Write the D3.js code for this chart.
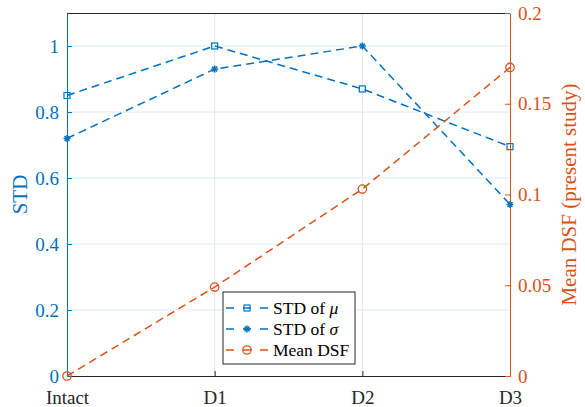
<!DOCTYPE html>
<html>
<head>
<meta charset="utf-8">
<script src="https://cdn.jsdelivr.net/npm/d3@7"></script>
<style>
  body { margin: 0; background: #fff; }
  svg text { font-family: "Liberation Serif", "Times New Roman", serif !important; }
</style>
</head>
<body>
<div class="chart"></div>
<script>
const categories = ["Intact", "D1", "D2", "D3"];
const stdMu = [0.85, 1.0, 0.87, 0.695];
const stdSigma = [0.72, 0.93, 1.0, 0.52];
const meanDSF = [0, 0.049, 0.103, 0.17];
const leftTicks = [0, 0.2, 0.4, 0.6, 0.8, 1];
const rightTicks = [0, 0.05, 0.1, 0.15, 0.2];

const width = 585, height = 407;
const margin = { top: 13, right: 75, bottom: 31, left: 67 };
const blue = "#0072BD", orange = "#D95319";

const svg = d3.select(".chart").append("svg")
  .attr("width", width).attr("height", height);

const x = d3.scalePoint().domain(categories)
  .range([margin.left, width - margin.right]);
const yL = d3.scaleLinear().domain([0, 1.1]).range([height - margin.bottom, margin.top]);
const yR = d3.scaleLinear().domain([0, 0.2]).range([height - margin.bottom, margin.top]);

// grid
svg.append("g").selectAll("line").data(leftTicks.slice(1)).join("line")
  .attr("x1", margin.left).attr("x2", width - margin.right)
  .attr("y1", d => yL(d)).attr("y2", d => yL(d))
  .attr("stroke", "#dcebf6").attr("stroke-width", 1);
svg.append("g").selectAll("line").data(categories.slice(1, -1)).join("line")
  .attr("x1", d => x(d)).attr("x2", d => x(d))
  .attr("y1", margin.top).attr("y2", height - margin.bottom)
  .attr("stroke", "#e6e6e6").attr("stroke-width", 1);

// top border
svg.append("line")
  .attr("x1", margin.left).attr("x2", width - margin.right)
  .attr("y1", margin.top + 0.5).attr("y2", margin.top + 0.5)
  .attr("stroke", "#262626").attr("stroke-width", 1);

// bottom axis
const xAxis = svg.append("g")
  .attr("transform", `translate(0,${height - margin.bottom})`)
  .call(d3.axisBottom(x).tickSizeOuter(0).tickSizeInner(-5).tickPadding(0));
xAxis.select(".domain").attr("stroke", "#262626");
xAxis.selectAll(".tick line").attr("stroke", "#262626");
xAxis.selectAll(".tick text").attr("font-size", 19).attr("fill", "#262626")
  .attr("y", 15).attr("dy", "0.71em");
xAxis.selectAll(".tick").filter(d => d === "Intact" || d === "D3").select("line").remove();

// left axis
const yAxisL = svg.append("g")
  .attr("transform", `translate(${margin.left},0)`)
  .call(d3.axisLeft(yL).tickValues(leftTicks).tickFormat(d3.format("~g"))
    .tickSizeInner(-5).tickSizeOuter(0).tickPadding(8));
yAxisL.select(".domain").attr("stroke", blue);
yAxisL.selectAll(".tick line").attr("stroke", blue);
yAxisL.selectAll(".tick text").attr("font-size", 19).attr("fill", blue);

// right axis
const yAxisR = svg.append("g")
  .attr("transform", `translate(${width - margin.right},0)`)
  .call(d3.axisRight(yR).tickValues(rightTicks).tickFormat(d3.format("~g"))
    .tickSizeInner(-5).tickSizeOuter(0).tickPadding(8));
yAxisR.select(".domain").attr("stroke", orange);
yAxisR.selectAll(".tick line").attr("stroke", orange);
yAxisR.selectAll(".tick text").attr("font-size", 19).attr("fill", orange);

// axis labels
const midY = (margin.top + height - margin.bottom) / 2;
svg.append("text")
  .attr("transform", `translate(27,${midY}) rotate(-90)`)
  .attr("text-anchor", "middle").attr("font-size", 21).attr("fill", blue)
  .text("STD");
svg.append("text")
  .attr("transform", `translate(576,${midY}) rotate(-90)`)
  .attr("text-anchor", "middle").attr("font-size", 21).attr("fill", orange)
  .text("Mean DSF (present study)");

// lines
const dash = "8,5";
const lineL = d3.line().x((d, i) => x(categories[i])).y(d => yL(d));
const lineR = d3.line().x((d, i) => x(categories[i])).y(d => yR(d));

const plot = svg.append("g");
plot.append("path").datum(stdMu).attr("d", lineL)
  .attr("fill", "none").attr("stroke", blue).attr("stroke-width", 1.5).attr("stroke-dasharray", dash);
plot.append("path").datum(stdSigma).attr("d", lineL)
  .attr("fill", "none").attr("stroke", blue).attr("stroke-width", 1.5).attr("stroke-dasharray", dash);
plot.append("path").datum(meanDSF).attr("d", lineR)
  .attr("fill", "none").attr("stroke", orange).attr("stroke-width", 1.5).attr("stroke-dasharray", dash);

function square(g, cx, cy, c) {
  g.append("rect").attr("x", cx - 3).attr("y", cy - 3).attr("width", 6).attr("height", 6)
    .attr("fill", "none").attr("stroke", c).attr("stroke-width", 1.2);
}
function star(g, cx, cy, c) {
  const r = 3.5;
  [0, 45, 90, 135].forEach(a => {
    const rad = a * Math.PI / 180;
    g.append("line")
      .attr("x1", cx - r * Math.cos(rad)).attr("y1", cy - r * Math.sin(rad))
      .attr("x2", cx + r * Math.cos(rad)).attr("y2", cy + r * Math.sin(rad))
      .attr("stroke", c).attr("stroke-width", 1.5);
  });
}
function circ(g, cx, cy, c) {
  g.append("circle").attr("cx", cx).attr("cy", cy).attr("r", 4.2)
    .attr("fill", "none").attr("stroke", c).attr("stroke-width", 1.3);
}
stdMu.forEach((d, i) => square(plot, x(categories[i]), yL(d), blue));
stdSigma.forEach((d, i) => star(plot, x(categories[i]), yL(d), blue));
meanDSF.forEach((d, i) => circ(plot, x(categories[i]), yR(d), orange));

// legend
const lg = svg.append("g").attr("transform", "translate(223,292)");
lg.append("rect").attr("width", 132).attr("height", 72)
  .attr("fill", "#fff").attr("stroke", "#262626").attr("stroke-width", 1);
const entries = [
  { c: blue, m: square, label: ["STD of ", "μ"] },
  { c: blue, m: star, label: ["STD of ", "σ"] },
  { c: orange, m: circ, label: ["Mean DSF", ""] }
];
entries.forEach((e, i) => {
  const cy = 16 + i * 21;
  lg.append("line").attr("x1", 3).attr("x2", 45).attr("y1", cy).attr("y2", cy)
    .attr("stroke", e.c).attr("stroke-width", 1.5).attr("stroke-dasharray", "8,9");
  e.m(lg, 24, cy, e.c);
  const t = lg.append("text").attr("x", 50).attr("y", cy + 6)
    .attr("font-size", 17.5).attr("fill", "#000");
  t.append("tspan").text(e.label[0]);
  if (e.label[1]) t.append("tspan").attr("font-style", "italic").text(e.label[1]);
});
</script>
</body>
</html>
